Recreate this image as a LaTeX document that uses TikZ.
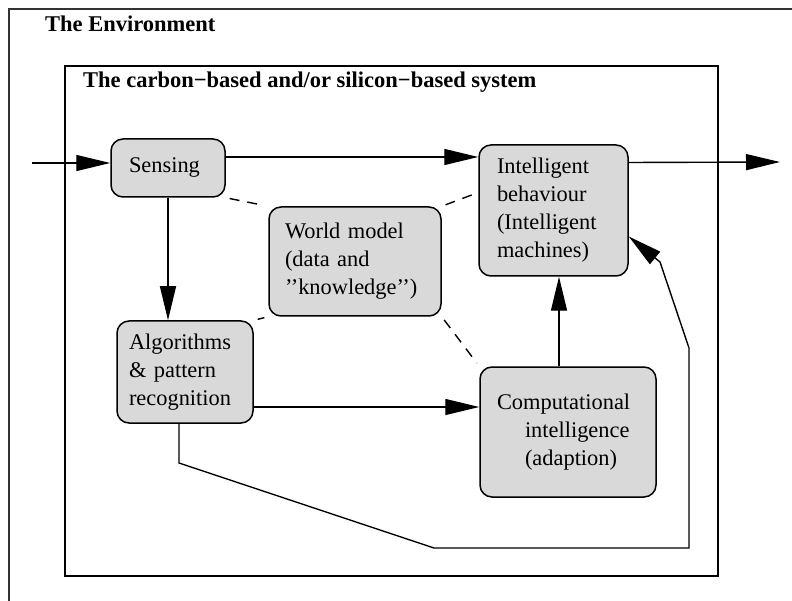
\documentclass[tikz,border=0pt]{standalone}
\usepackage{fontspec}
\setmainfont{Liberation Serif}
\usetikzlibrary{arrows.meta}

\tikzset{
    unit/.style={draw, line width=1.5pt, rounded corners=12pt, fill=black!15,
        align=left, inner sep=0pt, font=\fontsize{22.4}{28}\selectfont},
    title/.style={anchor=base west, inner sep=0pt, font=\bfseries\fontsize{22.5}{26}\selectfont},
    arr/.style={line width=1.4pt, -{Triangle[length=34pt,width=16pt]}},
    link/.style={line width=1.4pt, dash pattern=on 10pt off 8pt, shorten <=4pt, shorten >=4pt}
}

\begin{document}
\begin{tikzpicture}[x=1pt, y=-1pt]
        \useasboundingbox (0, 0) rectangle (792, 601);
        
        \draw[line width=1.5pt, black!80] (9, 601) -- (9, 9) -- (792, 9);
        \draw[line width=2pt] (65, 66) rectangle (718, 576);
        
        \node[title] (env) at (45, 32) {The Environment};
        \node[title] (sys) at (83, 88) {The carbon−based and/or silicon−based system};
        
        \node[unit, minimum width=114pt, minimum height=58pt, text width=78pt] (sens) at (168, 168) {Sensing};
        \node[unit, minimum width=149pt, minimum height=131pt, text width=113pt] (ib) at (553.5, 210.5) {Intelligent\\behaviour\\(Intelligent\\machines)};
        \node[unit, minimum width=172pt, minimum height=109pt, text width=140pt] (wm) at (355, 261.5) {World model\\(data and\\’’knowledge’’)};
        \node[unit, minimum width=136pt, minimum height=102pt, text width=112pt] (alg) at (185, 372) {Algorithms\\\& pattern\\recognition};
        \node[unit, minimum width=176pt, minimum height=130pt, text width=142pt] (comp) at (568, 432) {Computational\\\hspace*{28pt}intelligence\\\hspace*{28pt}(adaption)};
        
        \coordinate (in) at (32, 163);
        \coordinate (out) at (780, 162);
        
        \draw[arr] (in) -- (in -| sens.west);
        \draw[arr] ([yshift=11pt]sens.east) -- ([yshift=11pt]sens.east -| ib.west);
        \draw[arr] ([yshift=48pt]ib.east) -- (out);
        \draw[arr] (sens.south) -- (sens.south |- alg.north);
        \draw[arr] ([yshift=-35pt]alg.east) -- ([yshift=-35pt]alg.east -| comp.west);
        \draw[arr] ([xshift=-9pt]comp.north) -- ([xshift=-9pt]comp.north |- ib.south);
        
        \coordinate (f1) at (179, 463);
        \coordinate (f2) at (434, 548);
        \coordinate (f3) at (689, 548);
        \coordinate (f4) at (689, 348);
        \coordinate (f5) at (660, 262);
        \draw[arr] ([xshift=-6pt]alg.south) -- (f1) -- (f2) -- (f3) -- (f4) -- (f5) -- ([yshift=-26pt]ib.east);
        
        \draw[link] (sens.south east) -- (wm.north west);
        \draw[link] (wm.north east) -- ([yshift=18pt]ib.west);
        \draw[link] (wm.south west) -- (alg.north east);
        \draw[link] (wm.south east) -- (comp.north west);
    \end{tikzpicture}
\end{document}
